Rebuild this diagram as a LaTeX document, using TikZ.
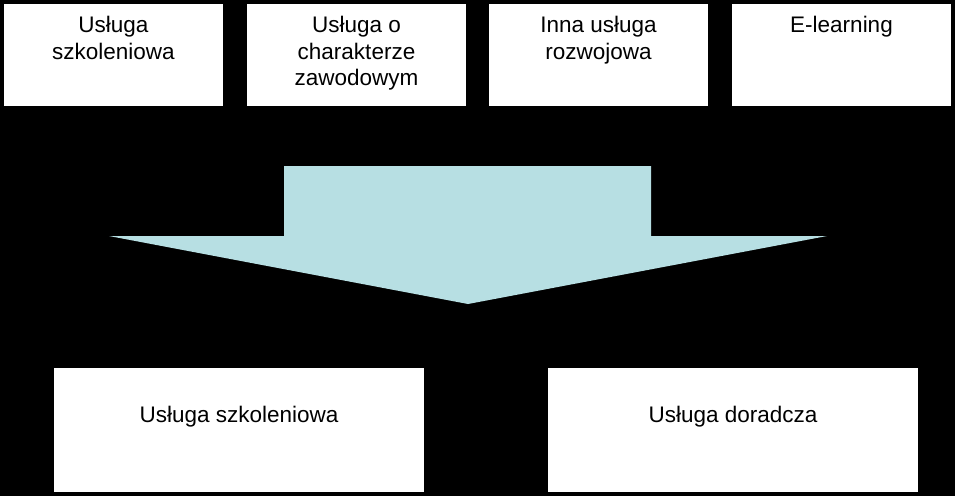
\documentclass[tikz,border=0pt]{standalone}
\usepackage{fontspec}
\setmainfont{Liberation Sans}
\usepackage{xcolor}
\usetikzlibrary{positioning}

\definecolor{arrowblue}{HTML}{B7DFE3}

\begin{document}
\begin{tikzpicture}[x=1pt, y=-1pt, inner sep=0pt,
    box/.style={fill=white, draw=none, minimum width=219pt, minimum height=102pt},
    bigbox/.style={fill=white, draw=none, minimum width=370pt, minimum height=124pt},
    txt/.style={align=center, font=\fontsize{22.5}{26.5}\selectfont}]

      \fill[black] (0,0) rectangle (955,496);

      % top row
      \node[box] (u1) at (113.5,55) {};
      \node[box] (u2) at (356.5,55) {};
      \node[box] (u3) at (598.5,55) {};
      \node[box] (u4) at (841.5,55) {};

      \node[txt, below=12.5pt of u1.north] (t1) {Usługa\\szkoleniowa};
      \node[txt, below=12.5pt of u2.north] (t2) {Usługa o\\charakterze\\zawodowym};
      \node[txt, below=12.5pt of u3.north] (t3) {Inna usługa\\rozwojowa};
      \node[txt, below=12.5pt of u4.north] (t4) {E-learning};

      % arrow
      \fill[arrowblue] (284,166) -- (651,166) -- (651,236) -- (827,236)
        -- (468,304) -- (109,236) -- (284,236) -- cycle;

      % bottom row
      \node[bigbox] (b1) at (239,430) {};
      \node[bigbox] (b2) at (733,430) {};

      \node[txt, anchor=base] (s1) at ([yshift=7.3pt]b1.center) {Usługa szkoleniowa};
      \node[txt, anchor=base] (s2) at ([yshift=7.3pt]b2.center) {Usługa doradcza};
    \end{tikzpicture}
\end{document}
